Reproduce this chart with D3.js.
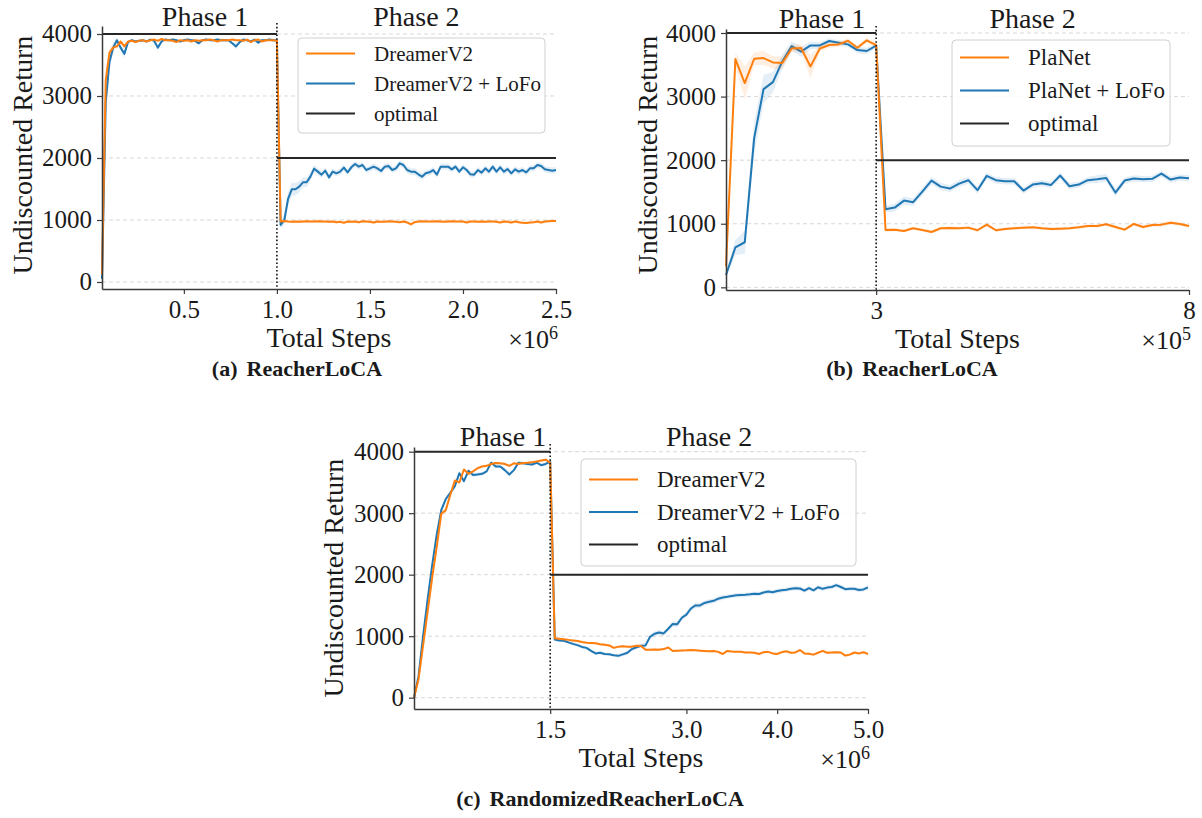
<!DOCTYPE html>
<html>
<head>
<meta charset="utf-8">
<script src="https://cdn.jsdelivr.net/npm/d3@7"></script>
<style>
  body { margin: 0; background: #fff; }
  text { font-family: "Liberation Serif", "Times New Roman", serif; fill: #1a1a1a; }
</style>
</head>
<body>
<div id="chart"></div>
<script>
// ---------- data ----------
// (a) ReacherLoCA, DreamerV2 vs DreamerV2 + LoFo, x in 1e6 steps (grid 0.06 .. 2.5, step 0.02)
const aStart = 0.06, aStep = 0.02;
const aDreamer = [
  120, 3250, 3700, 3780, 3800, 3880, 3800, 3880, 3890, 3870,
  3890, 3900, 3880, 3900, 3910, 3890, 3920, 3900, 3900, 3890,
  3870, 3900, 3890, 3900, 3880, 3900, 3890, 3900, 3900, 3910,
  3900, 3880, 3900, 3900, 3900, 3910, 3900, 3900, 3890, 3910,
  3870, 3900, 3910, 3880, 3900, 3900, 3900, 3890,
  975, 985, 975, 970, 975, 970, 975, 980, 975, 975,
  980, 975, 975, 970, 975, 965, 970, 955, 975, 970,
  975, 965, 980, 975, 970, 960, 975, 970, 970, 980,
  975, 970, 965, 975, 960, 930, 965, 975, 980, 975,
  975, 975, 980, 975, 970, 975, 980, 975, 975, 975,
  960, 975, 975, 970, 975, 970, 975, 975, 970, 960,
  975, 970, 960, 975, 965, 955, 950, 960, 965, 975,
  960, 975, 980, 985, 985
];
const aLoFo = [
  50, 2900, 3550, 3780, 3900, 3780, 3680, 3870, 3900, 3880,
  3890, 3900, 3880, 3910, 3890, 3780, 3880, 3910, 3900, 3910,
  3900, 3880, 3900, 3910, 3900, 3890, 3850, 3900, 3910, 3900,
  3900, 3910, 3900, 3900, 3900, 3850, 3800, 3870, 3910, 3900,
  3880, 3910, 3860, 3900, 3900, 3910, 3900, 3900,
  920, 1000, 1340, 1495, 1495, 1538, 1608, 1608, 1699, 1828,
  1780, 1731, 1796, 1688, 1780, 1753, 1780, 1844, 1769, 1850,
  1903, 1860, 1887, 1806, 1833, 1860, 1833, 1790, 1860, 1870,
  1806, 1833, 1914, 1887, 1806, 1780, 1780, 1737, 1699, 1753,
  1769, 1806, 1731, 1860, 1860, 1860, 1817, 1860, 1780, 1850,
  1806, 1737, 1731, 1806, 1764, 1833, 1780, 1860, 1780, 1850,
  1780, 1822, 1753, 1817, 1780, 1806, 1769, 1833, 1833, 1887,
  1870, 1817, 1806, 1796, 1806
];
const aDreamerSd = [
  30, 150, 80, 40, 30, 25, 30, 20, 15, 15,
  15, 15, 15, 15, 15, 15, 15, 15, 15, 15,
  15, 15, 15, 15, 15, 15, 15, 15, 15, 15,
  15, 15, 15, 15, 15, 15, 15, 15, 15, 15,
  15, 15, 15, 15, 15, 15, 15, 15,
  30, 25, 20, 20, 20, 20, 20, 20, 20, 20,
  20, 20, 20, 20, 20, 20, 20, 20, 20, 20,
  20, 20, 20, 20, 20, 20, 20, 20, 20, 20,
  20, 20, 20, 20, 20, 25, 20, 20, 20, 20,
  20, 20, 20, 20, 20, 20, 20, 20, 20, 20,
  20, 20, 20, 20, 20, 20, 20, 20, 20, 20,
  20, 20, 20, 20, 20, 20, 20, 20, 20, 20,
  20, 20, 20, 20, 20
];
const aLoFoSd = [
  40, 250, 150, 80, 40, 50, 70, 30, 20, 20,
  20, 20, 20, 20, 20, 45, 25, 20, 20, 20,
  20, 20, 20, 20, 20, 20, 30, 20, 20, 20,
  20, 20, 20, 20, 20, 30, 45, 30, 20, 20,
  20, 20, 30, 20, 20, 20, 20, 20,
  60, 80, 110, 110, 100, 90, 80, 80, 70, 60,
  60, 55, 55, 55, 50, 50, 50, 50, 50, 50,
  50, 50, 50, 50, 50, 50, 50, 50, 50, 50,
  50, 50, 50, 50, 55, 55, 55, 55, 55, 50,
  50, 50, 50, 50, 50, 50, 50, 50, 50, 50,
  50, 50, 50, 50, 50, 50, 50, 50, 50, 50,
  50, 50, 50, 50, 50, 50, 50, 50, 50, 50,
  50, 50, 50, 50, 50
];

// (b) ReacherLoCA, PlaNet vs PlaNet + LoFo, x in 1e5 steps
const bPlaNet = [
  330, 3590, 3213, 3595, 3606, 3537, 3528, 3757, 3764, 3474,
  3757, 3811, 3821, 3879, 3769, 3884, 3811,
  902, 907, 886, 929, 902, 871, 929, 934, 929, 939,
  898, 986, 898, 918, 929, 939, 945, 929, 918, 923,
  929, 945, 965, 965, 992, 950, 907, 997, 950, 981,
  986, 1017, 997, 965
];
const bLoFo = [
  194, 630, 709, 2346, 3118, 3228, 3553, 3795, 3706, 3805,
  3805, 3874, 3847, 3821, 3732, 3717, 3800,
  1228, 1254, 1364, 1339, 1506, 1679, 1584, 1553, 1632, 1685,
  1528, 1753, 1685, 1669, 1669, 1522, 1616, 1638, 1611, 1758,
  1590, 1616, 1685, 1701, 1721, 1490, 1679, 1711, 1701, 1706,
  1789, 1695, 1726, 1716
];
const bPlaNetSd = [
  60, 100, 260, 100, 110, 100, 100, 60, 60, 180,
  50, 40, 40, 30, 40, 30, 30,
  30, 25, 25, 25, 25, 25, 25, 25, 25, 25,
  25, 25, 25, 25, 25, 25, 25, 25, 25, 25,
  25, 25, 25, 25, 25, 30, 25, 25, 30, 30,
  40, 30, 30, 30
];
const bLoFoSd = [
  40, 120, 180, 250, 220, 160, 110, 70, 80, 60,
  50, 40, 40, 40, 50, 50, 40,
  50, 60, 70, 60, 60, 60, 55, 55, 55, 55,
  55, 50, 50, 50, 50, 50, 50, 50, 50, 50,
  50, 50, 50, 60, 60, 60, 50, 50, 50, 50,
  50, 50, 50, 50
];
const bPhase1Count = 17;

// (c) RandomizedReacherLoCA, x in 1e6 steps (grid 0 .. 5.0, step 0.05)
const cStart = 0, cStep = 0.05;
const cDreamer = [
  0, 300, 850, 1400, 1950, 2450, 2990, 3050, 3300, 3530,
  3500, 3710, 3640, 3680, 3730, 3760, 3770, 3800, 3815, 3810,
  3800, 3770, 3810, 3800, 3815, 3820, 3830, 3840, 3855, 3870,
  3820,
  965, 960, 950, 940, 930, 920, 905, 895, 890, 885,
  870, 860, 850, 810, 830, 835, 830, 830, 845, 840,
  780, 780, 785, 780, 790, 815, 760, 765, 768, 770,
  775, 770, 765, 760, 755, 760, 745, 710, 760, 750,
  745, 745, 735, 735, 730, 710, 740, 745, 720, 710,
  740, 755, 730, 735, 775, 720, 715, 700, 730, 760,
  730, 735, 740, 735, 685, 700, 735, 720, 740, 710
];
const cLoFo = [
  0, 350, 1000, 1600, 2150, 2650, 3050, 3230, 3330, 3440,
  3650, 3520, 3690, 3620, 3630, 3640, 3680, 3820, 3760, 3760,
  3700, 3630, 3700, 3820, 3810, 3800, 3790, 3820, 3780, 3800,
  3840,
  945, 930, 925, 900, 875, 855, 825, 810, 760, 720,
  730, 710, 705, 690, 680, 705, 730, 790, 820, 845,
  850, 990, 1040, 1060, 1045, 1120, 1200, 1195, 1300, 1350,
  1450, 1500, 1500, 1540, 1560, 1575, 1610, 1630, 1640, 1655,
  1665, 1670, 1672, 1680, 1690, 1685, 1710, 1725, 1715, 1735,
  1745, 1755, 1770, 1780, 1775, 1740, 1780, 1745, 1795, 1770,
  1790, 1800, 1830, 1800, 1765, 1770, 1770, 1750, 1760, 1795
];
const cDreamerSd = [
  0, 40, 60, 60, 60, 60, 50, 40, 40, 40,
  35, 30, 30, 25, 25, 20, 20, 20, 20, 20,
  20, 20, 20, 20, 20, 20, 20, 20, 20, 20,
  20,
  20, 20, 20, 20, 20, 20, 20, 20, 20, 20,
  20, 20, 20, 20, 20, 20, 20, 20, 20, 20,
  20, 20, 20, 20, 20, 20, 20, 20, 20, 20,
  20, 20, 20, 20, 20, 20, 20, 20, 20, 20,
  20, 20, 20, 20, 20, 20, 20, 20, 20, 20,
  20, 20, 20, 20, 20, 20, 20, 20, 20, 20,
  20, 20, 20, 20, 20, 20, 20, 20, 20, 20
];
const cLoFoSd = [
  0, 40, 60, 60, 60, 60, 50, 40, 40, 40,
  35, 30, 30, 30, 30, 30, 30, 30, 30, 30,
  30, 30, 25, 25, 25, 25, 25, 25, 25, 25,
  25,
  25, 25, 25, 25, 25, 25, 25, 25, 25, 25,
  25, 25, 25, 25, 30, 30, 30, 35, 35, 35,
  40, 40, 40, 40, 40, 45, 45, 45, 45, 45,
  45, 45, 45, 40, 40, 40, 40, 40, 35, 35,
  35, 35, 35, 35, 35, 35, 35, 35, 35, 35,
  35, 35, 35, 35, 35, 35, 35, 35, 35, 35,
  35, 35, 35, 35, 35, 35, 35, 35, 35, 35
];

const yTicks = [0, 1000, 2000, 3000, 4000];
const optimalPhase1 = 4000, optimalPhase2 = 2000;

const orange = "#ff7f0e", blue = "#1f77b4", optimalColor = "#262626";

// x grids
const aX = d3.range(aDreamer.length).map(i => aStart + i * aStep);
const bX = [
  ...d3.range(bPhase1Count).map(i => 0.6 + 0.15 * i),
  ...d3.range(bPlaNet.length - bPhase1Count).map(i => 3.15 + i * (8.0 - 3.15) / (bPlaNet.length - bPhase1Count - 1))
];
const cX = d3.range(cDreamer.length).map(i => cStart + i * cStep);

const panels = [
  {
    box: {left: 102, right: 556, top: 26, bottom: 289},
    xDomain: [0.06, 2.5], yDomain: [-113, 4129], boundary: 1.0,
    xTicks: [0.5, 1.0, 1.5, 2.0, 2.5], xFmt: d3.format(".1f"), exp: "6",
    xs: aX,
    series: [
      {name: "DreamerV2 + LoFo", vals: aLoFo, sd: aLoFoSd, color: blue},
      {name: "DreamerV2", vals: aDreamer, sd: aDreamerSd, color: orange}
    ],
    legendOrder: ["DreamerV2", "DreamerV2 + LoFo", "optimal"],
    legend: {x: 298, y: 38, w: 247, h: 95, row0: 53.5, rowGap: 30, fs: 21},
    ylabel: {x: 22, y: 155},
    phase1X: 205, phaseY: 26,
    caption: {x: 297, y: 376, tag: "(a)", text: "ReacherLoCA"}
  },
  {
    box: {left: 726, right: 1189, top: 29, bottom: 290},
    xDomain: [0.6, 8.0], yDomain: [-42, 4063], boundary: 3.0,
    xTicks: [3, 8], xFmt: d3.format("d"), exp: "5",
    xs: bX,
    series: [
      {name: "PlaNet + LoFo", vals: bLoFo, sd: bLoFoSd, color: blue},
      {name: "PlaNet", vals: bPlaNet, sd: bPlaNetSd, color: orange}
    ],
    legendOrder: ["PlaNet", "PlaNet + LoFo", "optimal"],
    legend: {x: 952, y: 40, w: 218, h: 106, row0: 57.5, rowGap: 33, fs: 23},
    ylabel: {x: 647, y: 155},
    phase1X: 822, phaseY: 28,
    caption: {x: 912, y: 376, tag: "(b)", text: "ReacherLoCA"}
  },
  {
    box: {left: 414, right: 868, top: 447, bottom: 709},
    xDomain: [0, 5.0], yDomain: [-184, 4076], boundary: 1.5,
    xTicks: [1.5, 3.0, 4.0, 5.0], xFmt: d3.format(".1f"), exp: "6",
    xs: cX,
    series: [
      {name: "DreamerV2 + LoFo", vals: cLoFo, sd: cLoFoSd, color: blue},
      {name: "DreamerV2", vals: cDreamer, sd: cDreamerSd, color: orange}
    ],
    legendOrder: ["DreamerV2", "DreamerV2 + LoFo", "optimal"],
    legend: {x: 581, y: 459, w: 275, h: 107, row0: 479.5, rowGap: 32.5, fs: 23},
    ylabel: {x: 333, y: 578},
    phase1X: 503, phaseY: 446,
    caption: {x: 600, y: 806, tag: "(c)", text: "RandomizedReacherLoCA"}
  }
];

const svg = d3.select("#chart").append("svg")
  .attr("width", 1202)
  .attr("height", 818);

function drawPanel(p) {
  const b = p.box;
  const g = svg.append("g");
  const x = d3.scaleLinear().domain(p.xDomain).range([b.left, b.right]);
  const y = d3.scaleLinear().domain(p.yDomain).range([b.bottom, b.top]);

  // dashed horizontal grid
  g.append("g").selectAll("line")
    .data(yTicks)
    .join("line")
    .attr("x1", b.left).attr("x2", b.right)
    .attr("y1", d => y(d)).attr("y2", d => y(d))
    .attr("stroke", "#d4d4d4")
    .attr("stroke-width", 0.9)
    .attr("stroke-dasharray", "4,3");

  // bands + lines
  p.series.forEach(s => {
    const pts = s.vals.map((v, i) => ({x: p.xs[i], v, sd: s.sd[i]}));
    g.append("path")
      .datum(pts)
      .attr("fill", s.color)
      .attr("fill-opacity", 0.12)
      .attr("d", d3.area().x(d => x(d.x)).y0(d => y(d.v - d.sd)).y1(d => y(d.v + d.sd)));
    g.append("path")
      .datum(pts)
      .attr("fill", "none")
      .attr("stroke", s.color)
      .attr("stroke-width", 2)
      .attr("stroke-linejoin", "round")
      .attr("d", d3.line().x(d => x(d.x)).y(d => y(d.v)));
  });

  // optimal return per phase
  const opt = [
    {x0: p.xDomain[0], x1: p.boundary, v: optimalPhase1},
    {x0: p.boundary, x1: p.xDomain[1], v: optimalPhase2}
  ];
  g.append("g").selectAll("line")
    .data(opt)
    .join("line")
    .attr("x1", d => x(d.x0)).attr("x2", d => x(d.x1))
    .attr("y1", d => y(d.v)).attr("y2", d => y(d.v))
    .attr("stroke", optimalColor)
    .attr("stroke-width", 2);

  // phase boundary
  g.append("line")
    .attr("x1", x(p.boundary)).attr("x2", x(p.boundary))
    .attr("y1", b.top - 3).attr("y2", b.bottom)
    .attr("stroke", "#111")
    .attr("stroke-width", 1.6)
    .attr("stroke-dasharray", "1.6,2.2");

  // axes
  const yAxis = g.append("g")
    .attr("transform", `translate(${b.left},0)`)
    .call(d3.axisLeft(y).tickValues(yTicks).tickFormat(d3.format("d")).tickSize(5).tickSizeOuter(0).tickPadding(5));
  const xAxis = g.append("g")
    .attr("transform", `translate(0,${b.bottom})`)
    .call(d3.axisBottom(x).tickValues(p.xTicks).tickFormat(p.xFmt).tickSize(5).tickSizeOuter(0).tickPadding(6));
  [yAxis, xAxis].forEach(ax => {
    ax.attr("font-family", null).attr("font-size", null);
    ax.select(".domain").attr("stroke", "#3a3a3a").attr("stroke-width", 1.5);
    ax.selectAll(".tick line").attr("stroke", "#3a3a3a").attr("stroke-width", 1.2);
    ax.selectAll(".tick text")
      .attr("fill", "#1a1a1a")
      .style("font-family", '"Liberation Serif", serif')
      .style("font-size", "25px");
  });

  // phase labels
  g.append("text")
    .attr("x", p.phase1X).attr("y", p.phaseY)
    .attr("text-anchor", "middle")
    .style("font-size", "28px")
    .text("Phase 1");
  g.append("text")
    .attr("x", x((p.boundary + p.xDomain[1]) / 2)).attr("y", p.phaseY)
    .attr("text-anchor", "middle")
    .style("font-size", "28px")
    .text("Phase 2");

  // axis labels
  g.append("text")
    .attr("transform", `translate(${p.ylabel.x},${p.ylabel.y}) rotate(-90)`)
    .attr("text-anchor", "middle")
    .attr("dominant-baseline", "central")
    .style("font-size", "28px")
    .text("Undiscounted Return");
  g.append("text")
    .attr("x", (b.left + b.right) / 2).attr("y", b.bottom + 58)
    .attr("text-anchor", "middle")
    .style("font-size", "28px")
    .text("Total Steps");
  const mult = g.append("text")
    .attr("x", b.right + 2).attr("y", b.bottom + 59)
    .attr("text-anchor", "end")
    .style("font-size", "26px");
  mult.append("tspan").text("×10");
  mult.append("tspan").attr("dy", -9).style("font-size", "18px").text(p.exp);

  // legend
  const L = p.legend;
  const lg = g.append("g");
  lg.append("rect")
    .attr("x", L.x).attr("y", L.y).attr("width", L.w).attr("height", L.h)
    .attr("rx", 4)
    .attr("fill", "#fff").attr("fill-opacity", 0.85)
    .attr("stroke", "#d0d0d0").attr("stroke-width", 1);
  const colorOf = name => {
    const s = p.series.find(d => d.name === name);
    return s ? s.color : optimalColor;
  };
  const items = lg.selectAll("g.item")
    .data(p.legendOrder)
    .join("g")
    .attr("class", "item")
    .attr("transform", (d, i) => `translate(${L.x + 8},${L.row0 + i * L.rowGap})`);
  items.append("line")
    .attr("x1", 0).attr("x2", 49).attr("y1", 0).attr("y2", 0)
    .attr("stroke", d => colorOf(d)).attr("stroke-width", 2);
  items.append("text")
    .attr("x", 68).attr("y", 0)
    .attr("dominant-baseline", "central")
    .style("font-size", L.fs + "px")
    .text(d => d);

  // caption
  const cap = g.append("text")
    .attr("x", p.caption.x).attr("y", p.caption.y)
    .attr("text-anchor", "middle")
    .style("font-size", "22px")
    .style("font-weight", "bold");
  cap.append("tspan").text(p.caption.tag);
  cap.append("tspan").attr("dx", 9).text(p.caption.text);
}

panels.forEach(drawPanel);
</script>
</body>
</html>
